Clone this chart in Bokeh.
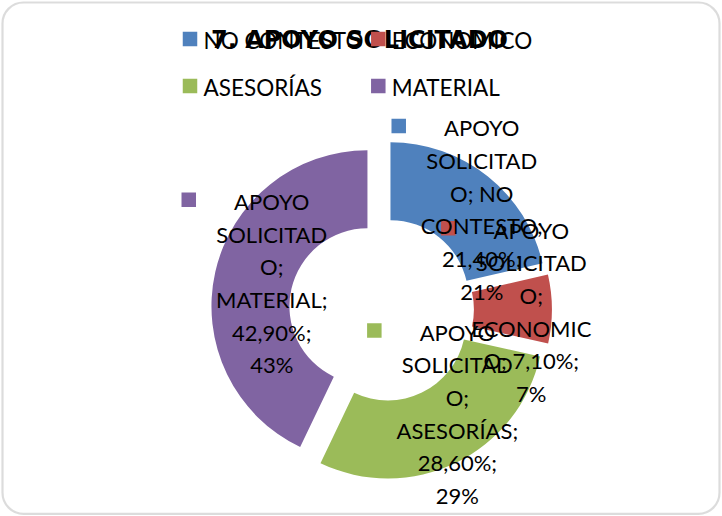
import math
from bokeh.plotting import figure
from bokeh.models import Range1d, BoxAnnotation, ColumnDataSource
from bokeh.core.properties import value
from bokeh.embed import file_html
from bokeh.resources import INLINE

# ---------------- data ----------------
title_text = "7. APOYO SOLICITADO"
series_name = "APOYO SOLICITADO"
categories = ["NO CONTESTO", "ECONOMICO", "ASESORÍAS", "MATERIAL"]
values = [21.4, 7.1, 28.6, 42.9]
colors = ["#4F81BD", "#C0504D", "#9BBB59", "#8064A2"]
# how Excel wrapped "series; category;" inside each data label
name_wraps = [
    ["APOYO", "SOLICITAD", "O; NO", "CONTESTO;"],
    ["APOYO", "SOLICITAD", "O;", "ECONOMIC", "O;"],
    ["APOYO", "SOLICITAD", "O;", "ASESORÍAS;"],
    ["APOYO", "SOLICITAD", "O;", "MATERIAL;"],
]

# ---------------- layout / style ----------------
W, H = 722, 516
FONT = "Lato"
CAP = 0.7165      # Lato cap-height / em
BASE_FIX = 0.35   # empirical baseline correction (em)

cx, cy_s = 381.0, 309.0        # donut centre (screen px, y down)
R_OUT, R_IN, EXPLODE = 156.0, 78.0, 14.4

LBL_FS = 22
LBL_LS = 32.7
LBL_DX = 18.4
LBL_DY = 2.5
LBL_MAX_LAST = 495.0
KEY_DX = -83.0
KEY_SIZE = 14.5

p = figure(width=W, height=H, x_range=Range1d(0, W), y_range=Range1d(0, H),
           output_backend="svg", toolbar_location=None, min_border=0,
           x_axis_location=None, y_axis_location=None)
p.margin = (0, 0, 0, 0)
p.grid.visible = False
p.outline_line_color = None
p.background_fill_color = "white"
p.border_fill_color = "white"


def fy(y_screen):
    return H - y_screen


def base_y(cap_center, fs, cap=CAP):
    # data-y for an alphabetic-baseline text whose cap centre sits at cap_center
    return fy(cap_center + cap * fs / 2 - BASE_FIX * fs)


# ---------------- donut ----------------
total = sum(values)
xs, ys, sa, ea = [], [], [], []
lab_x, lab_y, lab_t = [], [], []
key_x, key_y, key_c = [], [], []
cum = 0.0
for i, v in enumerate(values):
    th_s = 360.0 * cum / total
    cum += v
    th_e = 360.0 * cum / total
    th_m = math.radians((th_s + th_e) / 2)
    sx = cx + EXPLODE * math.sin(th_m)
    sy = cy_s - EXPLODE * math.cos(th_m)
    xs.append(sx)
    ys.append(fy(sy))
    sa.append(math.radians(90 - th_s))
    ea.append(math.radians(90 - th_e))

    # data label
    mid_r = (R_OUT + R_IN) / 2
    ax = sx + mid_r * math.sin(th_m)
    ay = sy - mid_r * math.cos(th_m)
    lines = list(name_wraps[i])
    pct = ("%.2f%%;" % v).replace(".", ",")
    rnd = "%d%%" % round(v)
    for part in (pct, rnd):
        if len(lines[-1]) + 1 + len(part) <= 9:
            lines[-1] = lines[-1] + " " + part
        else:
            lines.append(part)
    n = len(lines)
    tcx = ax + LBL_DX
    first = ay + LBL_DY - (n - 1) / 2 * LBL_LS
    last = first + (n - 1) * LBL_LS
    if last > LBL_MAX_LAST:
        first -= last - LBL_MAX_LAST
    for k, ln in enumerate(lines):
        capc = first + k * LBL_LS
        lab_x.append(tcx)
        lab_y.append(base_y(capc, LBL_FS))
        lab_t.append(ln)
    key_x.append(tcx + KEY_DX)
    key_y.append(fy(first - 1.5))
    key_c.append(colors[i])

src = ColumnDataSource(dict(x=xs, y=ys, sa=sa, ea=ea, color=colors))
p.annular_wedge(x="x", y="y", inner_radius=R_IN, outer_radius=R_OUT,
                start_angle="sa", end_angle="ea", direction="clock",
                fill_color="color", line_color=None, source=src)

# ---------------- title ----------------
TITLE_FS = 24
p.text(x=[359], y=[base_y(39.5, TITLE_FS, 0.729)], text=[title_text],
       text_font=value("DejaVu Sans"), text_font_size="%dpx" % TITLE_FS,
       text_font_style="bold", text_align="center",
       text_baseline="alphabetic", text_color="black")

# ---------------- legend ----------------
LEG_FS = 22.5
leg_cols = [189.5, 377.8]
leg_rows = [38.4, 85.5]
lgx, lgy, lgc, ltx, lty, ltt = [], [], [], [], [], []
for i, cat in enumerate(categories):
    col, row = i % 2, i // 2
    lgx.append(leg_cols[col])
    lgy.append(fy(leg_rows[row]))
    lgc.append(colors[i])
    ltx.append(leg_cols[col] + 13.5)
    lty.append(base_y(leg_rows[row] + 1.3, LEG_FS))
    ltt.append(cat)
p.scatter(x=lgx, y=lgy, marker="square", size=KEY_SIZE, fill_color=lgc,
          line_color=None)
p.text(x=ltx, y=lty, text=ltt, text_font=value(FONT),
       text_font_size="%.1fpx" % LEG_FS, text_align="left",
       text_baseline="alphabetic", text_color="black")

# ---------------- data labels ----------------
p.scatter(x=key_x, y=key_y, marker="square", size=KEY_SIZE, fill_color=key_c,
          line_color=None)
p.text(x=lab_x, y=lab_y, text=lab_t, text_font=value(FONT),
       text_font_size="%dpx" % LBL_FS, text_align="center",
       text_baseline="alphabetic", text_color="black")

# ---------------- chart-area border ----------------
p.add_layout(BoxAnnotation(left=2, right=719, bottom=fy(513.3), top=fy(2),
                           border_radius=21, fill_color=None,
                           line_color="#8A8A8A", line_width=2.2))

open("out.html", "w").write(file_html(p, INLINE))
